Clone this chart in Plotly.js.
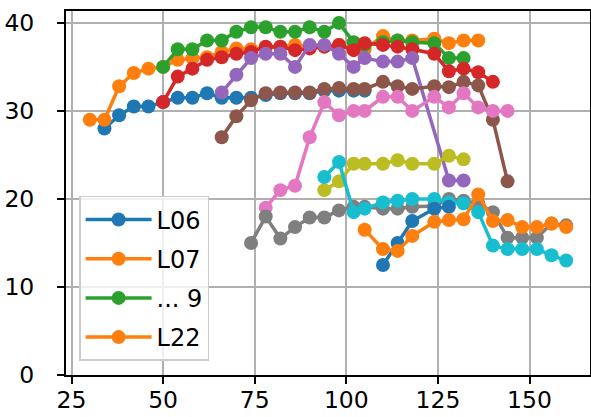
<!DOCTYPE html>
<html>
<head>
<meta charset="utf-8">
<script src="https://cdn.plot.ly/plotly-3.0.1.min.js"></script>
<style>html,body{margin:0;padding:0;background:#fff;}#chart{width:591px;height:417px;}</style>
</head>
<body>
<div id="chart"></div>
<script>
// Series data
const s1x = [34,38,42,46,50,54,58,62,66,70,74,78,82,86,90,94,98,102,105];
const s1y = [28,29.5,30.5,30.5,31,31.5,31.5,32,31.5,31.5,31.5,31.8,32,32,32,32.3,32.3,32.3,32.3];

const s2x = [30,34,38,42,46,50,54,58,62,66,70,74,78,82,86,90,94,98,102,105,110,114,118,124,128,132,136];
const s2y = [29,29,32.8,34.3,34.8,35,35.8,36,36.1,36.7,37.1,37,37.2,37.3,37.5,37.3,37.3,37.5,37,37,38.5,38,38,38.2,37.7,38,38];

const s3x = [50,54,58,62,66,70,74,78,82,86,90,94,98,102,105,110,114,118,124,128,132];
const s3y = [35,37,37,38,38,39,39.5,39.5,39,39,39.5,39,40,37.8,37.5,37.8,38,37.8,37.7,36,36];

const s4x = [50,54,58,62,66,70,74,78,82,86,90,94,98,102,105,110,114,118,124,128,132,136,140];
const s4y = [31,33.9,34.8,35.8,36.1,36.5,36.7,37.3,37.3,36.9,37.1,37.3,37.5,36.9,37.7,37.5,37.3,37,36.5,34.5,34.8,34.4,33.3];

const s5x = [66,70,74,78,82,86,90,94,98,102,105,110,114,118,128,132];
const s5y = [32.1,34.1,36,36.5,36.5,35,37.5,37.5,36.5,35,36,35.6,35.6,36,22.1,22.1];

const s6x = [66,70,74,78,82,86,90,94,98,102,105,110,114,118,124,128,132,136,140,144];
const s6y = [27,29.4,31.2,32,32.1,32.1,32.1,32.5,32.6,32.5,32.5,33.3,32.8,32.5,32.8,32.7,33.3,32.9,29,22];

const s7x = [78,82,86,90,94,98,102,105,110,114,118,124,128,132,136,140,144];
const s7y = [19,21,21.5,27,31,29.5,30,30,31.6,31.6,30,31.6,30.4,32,30.4,30,30];

const s8x = [74,78,82,86,90,94,98,102,105,110,114,118,124,128,132,136,140,144,148,152,156,160];
const s8y = [15,18,15.5,16.8,17.9,17.9,18.7,19.1,19.1,18.9,18.9,19.1,19.2,20,19.8,19.5,18.5,15.6,15.6,15.6,17.2,17];

const s9x = [94,98,102,105,110,114,118,124,128,132];
const s9y = [21,22,24,24,24,24.4,24,24,24.9,24.5];

const s10x = [94,98,102,105,110,114,118,124,128,132,136,140,144,148,152,156,160];
const s10y = [22.5,24.2,18.5,18.9,19.6,19.8,20,20,19.6,19.5,18.5,14.7,14.3,14.3,14.3,13.6,13];

const s11x = [110,114,118,124,128];
const s11y = [12.5,15,17.5,18.9,19.1];

const s12x = [105,110,114,118,124,128,132,136,140,144,148,152,156,160];
const s12y = [16.5,14.3,14.1,15.8,17.4,17.6,17.7,20.5,17.5,17.6,16.8,16.8,17.2,16.8];

const seriesNames = ["L06","L07","... 9","","","","","","","","","L22"];
const xTicks = [25,50,75,100,125,150];
const yTicks = [0,10,20,30,40];

const colors = ["#1f77b4","#ff7f0e","#2ca02c","#d62728","#9467bd","#8c564b","#e377c2","#7f7f7f","#bcbd22","#17becf","#1f77b4","#ff7f0e"];
const xs = [s1x,s2x,s3x,s4x,s5x,s6x,s7x,s8x,s9x,s10x,s11x,s12x];
const ys = [s1y,s2y,s3y,s4y,s5y,s6y,s7y,s8y,s9y,s10y,s11y,s12y];

const traces = xs.map((x,i)=>({
  x: x, y: ys[i], type: "scatter", mode: "lines+markers",
  name: seriesNames[i] || ("s"+(i+1)),
  showlegend: seriesNames[i] !== "",
  legendgroup: "g"+i,
  line: {color: colors[i], width: 3.5},
  marker: {color: colors[i], size: 14}
}));

const font = "DejaVu Sans, Arial, sans-serif";
const layout = {
  width: 591, height: 417,
  margin: {l: 66, r: 1, t: 11, b: 42},
  paper_bgcolor: "#fff", plot_bgcolor: "#fff",
  font: {family: font, size: 24, color: "#000"},
  title: {text: "Series measurements by recording", font: {family: font, size: 24, color: "#000"},
          x: 0.9885, xanchor: "right", xref: "paper", y: 1, yref: "container", yanchor: "bottom", pad: {b: 7}},
  xaxis: {range: [23.5, 166.5], tickvals: xTicks, ticktext: xTicks.map(String),
          showgrid: true, gridcolor: "#b0b0b0", gridwidth: 2,
          showline: true, linecolor: "#000", linewidth: 2, mirror: true,
          ticks: "outside", ticklen: 7, tickwidth: 2, tickcolor: "#000", zeroline: false,
          ticklabelstandoff: -4,
          tickfont: {family: font, size: 23.5, color: "#000"}},
  yaxis: {range: [0, 41.35], tickvals: yTicks, ticktext: yTicks.map(String),
          showgrid: true, gridcolor: "#b0b0b0", gridwidth: 2,
          showline: true, linecolor: "#000", linewidth: 2, mirror: true,
          ticks: "outside", ticklen: 7, tickwidth: 2, tickcolor: "#000", zeroline: false,
          ticklabelstandoff: 18,
          tickfont: {family: font, size: 23.5, color: "#000"}},
  legend: {x: 0.025, y: 0.492, xanchor: "left", yanchor: "top",
           bgcolor: "rgba(255,255,255,0.8)", bordercolor: "#cccccc", borderwidth: 1.5,
           font: {family: font, size: 24, color: "#000"}, itemwidth: 66, tracegroupgap: 5},
  showlegend: true
};
Plotly.newPlot("chart", traces, layout, {displayModeBar: false, staticPlot: true});
</script>
</body>
</html>
